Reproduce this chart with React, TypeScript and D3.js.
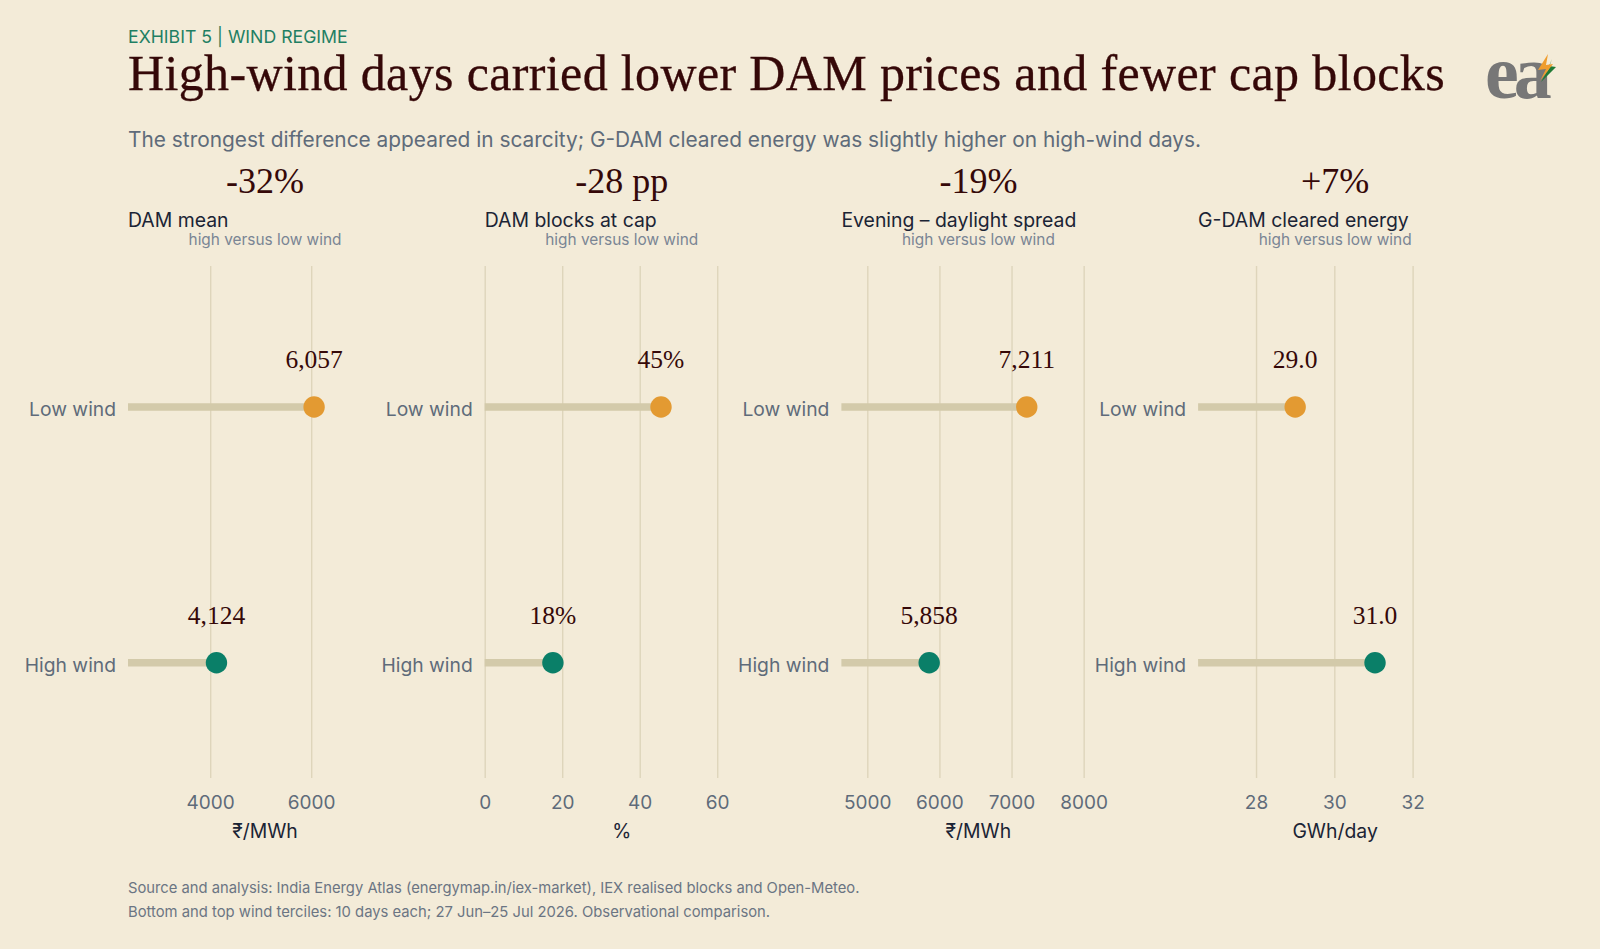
import React, { useEffect, useRef } from 'react';
import * as d3 from 'd3';

// data
const metrics = ['DAM mean', 'DAM blocks at cap', 'Evening – daylight spread', 'G-DAM cleared energy'];
const changes = ['-32%', '-28 pp', '-19%', '+7%'];
const units = ['₹/MWh', '%', '₹/MWh', 'GWh/day'];
const regimes = ['Low wind', 'High wind'];
const lowWind = [6057, 45.49, 7211, 29.0];
const highWind = [4124, 17.6, 5858, 31.04];
const tickValues = [[4000, 6000], [0, 20, 40, 60], [5000, 6000, 7000, 8000], [28, 30, 32]];
const domains = [[2372, 7798], [0, 70.7], [4641, 8440], [26.52, 33.52]];
const valueFormats = [d3.format(','), (v: number) => `${Math.round(v)}%`, d3.format(','), d3.format('.1f')];

const INTER = 'Inter, sans-serif';
const SERIF = '"Liberation Serif", serif';

const App: React.FC = () => {
  const ref = useRef<SVGSVGElement>(null);

  useEffect(() => {
    const svg = d3.select(ref.current);
    svg.selectAll('*').remove();

    const panelWidth = 274;
    const panelStep = 356.7;
    const left = 128;
    const top = 266;
    const bottom = 778;

    svg.append('rect').attr('width', 1600).attr('height', 949).attr('fill', '#f3ebd8');

    // header
    const txt = (x: number, y: number, s: string, size: number, fill: string, family = INTER) =>
      svg.append('text')
        .attr('x', x)
        .attr('y', y)
        .attr('font-family', family)
        .attr('font-size', size)
        .attr('fill', fill)
        .text(s);

    txt(left, 42.5, 'EXHIBIT 5 | WIND REGIME', 17.7, '#1f7f63');
    txt(left, 90, 'High-wind days carried lower DAM prices and fewer cap blocks', 50, '#350808', SERIF)
      .attr('letter-spacing', 0.36)
      .attr('stroke', '#350808')
      .attr('stroke-width', 0.3);
    txt(left, 147, 'The strongest difference appeared in scarcity; G-DAM cleared energy was slightly higher on high-wind days.', 20.87, '#5f6b7a');

    // logo
    const logo = svg.append('g');
    logo.append('text')
      .attr('x', 1485)
      .attr('y', 98)
      .attr('font-family', SERIF)
      .attr('font-size', 76)
      .attr('font-weight', 700)
      .attr('letter-spacing', -5)
      .attr('fill', '#777777')
      .text('ea');
    logo.append('path').attr('d', 'M1552 59 L1549 66 L1556 67 L1541 82 L1548 70 Z').attr('fill', '#1f7a35');
    logo.append('path').attr('d', 'M1548 54 L1538 70 L1546 69 L1540 81 L1553 64 L1546 65 Z').attr('fill', '#ef9d2f');

    // panels
    metrics.forEach((metric, i) => {
      const g = svg.append('g').attr('transform', `translate(${left + i * panelStep},0)`);
      const x = d3.scaleLinear().domain(domains[i]).range([0, panelWidth]);
      const y = d3.scalePoint().domain(regimes).range([407, 662.7]);
      const cy = (r: string) => y(r) || 0;
      const center = panelWidth / 2;

      g.append('text')
        .attr('x', center).attr('y', 193)
        .attr('text-anchor', 'middle')
        .attr('font-family', SERIF).attr('font-size', 36).attr('fill', '#350808')
        .text(changes[i]);
      g.append('text')
        .attr('x', 0).attr('y', 227)
        .attr('font-family', INTER).attr('font-size', 19.4).attr('fill', '#1b2435')
        .text(metric);
      g.append('text')
        .attr('x', center).attr('y', 245)
        .attr('text-anchor', 'middle')
        .attr('font-family', INTER).attr('font-size', 15.4).attr('fill', '#7a8594')
        .text('high versus low wind');

      // axis + gridlines
      const axis = d3.axisBottom(x)
        .tickValues(tickValues[i])
        .tickSize(-(bottom - top))
        .tickFormat(d3.format('d') as any);
      g.append('g')
        .attr('transform', `translate(0,${bottom})`)
        .call(axis)
        .call(a => a.select('.domain').remove())
        .call(a => a.selectAll('.tick line').attr('stroke', '#ded5bb').attr('stroke-width', 1.4))
        .call(a => a.selectAll('.tick text')
          .attr('y', 31)
          .attr('dy', 0)
          .attr('font-family', INTER)
          .attr('font-size', 19)
          .attr('fill', '#5f6b7a'));

      g.append('text')
        .attr('x', center).attr('y', 838)
        .attr('text-anchor', 'middle')
        .attr('font-family', INTER).attr('font-size', 19.4).attr('fill', '#1b2435')
        .text(units[i]);

      // rows
      regimes.forEach((r, j) => {
        const v = (j === 0 ? lowWind : highWind)[i];
        const color = j === 0 ? '#e39a32' : '#0a7f68';
        g.append('line')
          .attr('x1', 0).attr('x2', x(v))
          .attr('y1', cy(r)).attr('y2', cy(r))
          .attr('stroke', '#d3caaa').attr('stroke-width', 7.5);
        g.append('circle')
          .attr('cx', x(v)).attr('cy', cy(r)).attr('r', 10.7)
          .attr('fill', color);
        g.append('text')
          .attr('x', x(v)).attr('y', cy(r) - 39)
          .attr('text-anchor', 'middle')
          .attr('font-family', SERIF).attr('font-size', 25.5).attr('fill', '#350808')
          .text(valueFormats[i](v));
        g.append('text')
          .attr('x', -12).attr('y', cy(r) + 9)
          .attr('text-anchor', 'end')
          .attr('font-family', INTER).attr('font-size', 19.3).attr('fill', '#5f6b7a')
          .text(r);
      });
    });

    // footer
    txt(left, 892.7, 'Source and analysis: India Energy Atlas (energymap.in/iex-market), IEX realised blocks and Open-Meteo.', 14.77, '#6b7583');
    txt(left, 916.7, 'Bottom and top wind terciles: 10 days each; 27 Jun–25 Jul 2026. Observational comparison.', 14.8, '#6b7583');
  }, []);

  return <svg ref={ref} width={1600} height={949} style={{ position: 'absolute', left: 0, top: 0 }} />;
};

export default App;
